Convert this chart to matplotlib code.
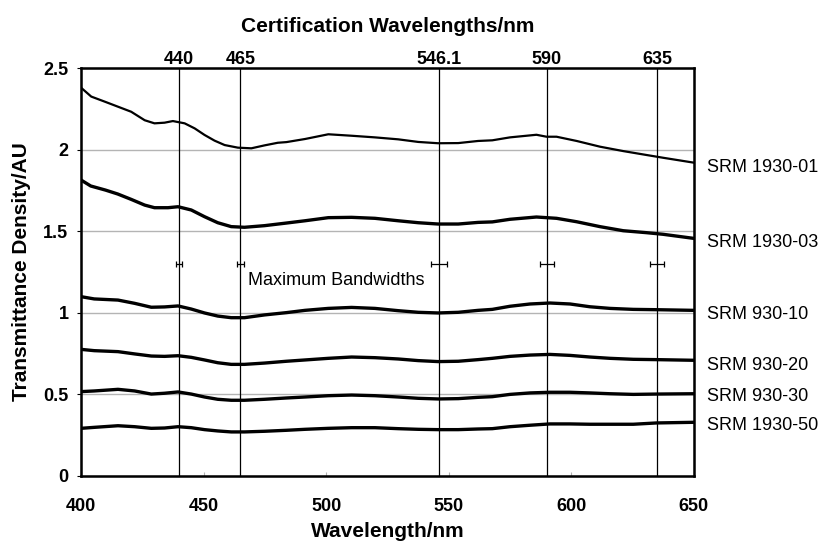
import numpy as np
import matplotlib
matplotlib.use('Agg')
import matplotlib.pyplot as plt

plt.rcParams['font.family'] = ['Liberation Sans', 'DejaVu Sans']

# wavelengths (nm) and transmittance density (AU)
wl_01 = [400, 404.2, 409.7, 415.1, 420.5, 426, 430, 434.1, 437.5, 442.3, 446.4, 450.4, 454.5,
         458.6, 464, 469.5, 474.9, 480.3, 483.8, 491.4, 500.9, 510.4, 519.9, 529.4, 537.6, 545.7,
         553.9, 562, 567.8, 575, 585.8, 589.9, 594, 602.2, 611.7, 621.2, 630.7, 637.5, 650]
srm_1930_01 = [2.38, 2.325, 2.294, 2.263, 2.232, 2.18, 2.161, 2.165, 2.175, 2.161, 2.13, 2.09, 2.055,
               2.028, 2.012, 2.008, 2.026, 2.042, 2.046, 2.065, 2.094, 2.085, 2.075, 2.063, 2.047, 2.039,
               2.04, 2.053, 2.057, 2.075, 2.091, 2.079, 2.079, 2.053, 2.018, 1.991, 1.967, 1.950, 1.92]

wl_03 = [400, 404, 410, 415, 420.5, 426, 430, 435.5, 439.6, 445, 450.4, 455.8, 461.3, 466.7,
         474.9, 483.8, 491.4, 500.9, 510.4, 519.9, 529.4, 537.6, 545.7, 553.9, 562, 567.8, 575,
         585.8, 594, 602.2, 611.7, 621.2, 630.7, 637.5, 650]
srm_1930_03 = [1.814, 1.777, 1.752, 1.728, 1.695, 1.66, 1.644, 1.644, 1.65, 1.63, 1.589, 1.552,
               1.528, 1.524, 1.534, 1.55, 1.564, 1.583, 1.585, 1.579, 1.564, 1.552, 1.544, 1.544,
               1.554, 1.557, 1.573, 1.587, 1.579, 1.558, 1.528, 1.503, 1.491, 1.481, 1.456]

wl = [400, 405.4, 415.1, 421.9, 428.7, 434.1, 439.6, 445, 450.4, 455.8, 461.3, 466.7, 474.9,
      483.8, 491.4, 500.9, 510.4, 519.9, 529.4, 537.6, 545.7, 553.9, 562, 567.8, 575, 583.2,
      591.3, 599.5, 607.6, 615.8, 625.3, 634.8, 650]
srm_930_10 = [1.099, 1.085, 1.078, 1.058, 1.034, 1.036, 1.042, 1.023, 0.999, 0.980, 0.970, 0.970,
              0.987, 1.001, 1.015, 1.027, 1.033, 1.027, 1.013, 1.003, 0.999, 1.003, 1.015, 1.021,
              1.040, 1.054, 1.060, 1.054, 1.037, 1.027, 1.021, 1.019, 1.015]
srm_930_20 = [0.776, 0.768, 0.762, 0.748, 0.735, 0.733, 0.737, 0.727, 0.711, 0.694, 0.684, 0.684,
              0.692, 0.703, 0.711, 0.721, 0.729, 0.725, 0.717, 0.707, 0.701, 0.703, 0.713, 0.721,
              0.733, 0.741, 0.745, 0.739, 0.729, 0.721, 0.715, 0.713, 0.709]
srm_930_30 = [0.517, 0.521, 0.531, 0.521, 0.502, 0.507, 0.515, 0.502, 0.484, 0.470, 0.464, 0.464,
              0.470, 0.478, 0.484, 0.492, 0.496, 0.492, 0.484, 0.476, 0.472, 0.474, 0.482, 0.486,
              0.500, 0.509, 0.513, 0.513, 0.509, 0.504, 0.500, 0.502, 0.504]
srm_1930_50 = [0.292, 0.298, 0.308, 0.302, 0.292, 0.294, 0.302, 0.296, 0.284, 0.276, 0.270, 0.270,
               0.274, 0.280, 0.286, 0.292, 0.296, 0.296, 0.290, 0.286, 0.284, 0.284, 0.288, 0.290,
               0.302, 0.311, 0.319, 0.319, 0.317, 0.317, 0.317, 0.325, 0.329]

labels = ['SRM 1930-01', 'SRM 1930-03', 'SRM 930-10', 'SRM 930-20', 'SRM 930-30', 'SRM 1930-50']
label_y = [1.89, 1.43, 0.99, 0.68, 0.485, 0.31]

cert_wl = [440, 465, 546.1, 590, 635]
cert_labels = ['440', '465', '546.1', '590', '635']
bandwidth = [1.4, 1.5, 3.3, 2.9, 3.0]
bw_level = 1.3

fig = plt.figure(figsize=(8.26, 5.42), dpi=100)
ax = fig.add_axes([0.098, 0.1218, 0.742, 0.7527])

for g in [0.5, 1.0, 1.5, 2.0]:
    ax.axhline(g, color='#b4b4b4', lw=1.0, zorder=1)

for c in cert_wl:
    ax.axvline(c, color='black', lw=0.9, zorder=2)

ax.plot(wl_01, srm_1930_01, color='black', lw=1.6, zorder=3, solid_joinstyle='round')
ax.plot(wl_03, srm_1930_03, color='black', lw=2.4, zorder=3, solid_joinstyle='round')
for ys in [srm_930_10, srm_930_20, srm_930_30, srm_1930_50]:
    ax.plot(wl, ys, color='black', lw=2.4, zorder=3, solid_joinstyle='round')

ax.errorbar(cert_wl, [bw_level] * len(cert_wl), xerr=bandwidth, fmt='none',
            ecolor='black', elinewidth=0.9, capsize=2.5, capthick=0.9, zorder=4)
ax.text(468, 1.2, 'Maximum Bandwidths', fontsize=13, va='center', ha='left')

for lab, ly in zip(labels, label_y):
    ax.text(655.5, ly, lab, fontsize=13, va='center', ha='left', clip_on=False)

ax.set_xlim(400, 650)
ax.set_ylim(0, 2.5)
ax.set_xticks([400, 450, 500, 550, 600, 650])
ax.set_yticks([0, 0.5, 1, 1.5, 2, 2.5])
ax.set_yticklabels(['0', '0.5', '1', '1.5', '2', '2.5'])
for t in ax.get_xticklabels() + ax.get_yticklabels():
    t.set_fontweight('bold')
    t.set_fontsize(13)
ax.tick_params(axis='x', direction='in', length=3, color='#b0b0b0', pad=16)
ax.tick_params(axis='y', direction='out', length=3, pad=6)
for s in ax.spines.values():
    s.set_linewidth(1.8)

ax2 = ax.twiny()
ax2.set_xlim(ax.get_xlim())
ax2.set_xticks(cert_wl)
ax2.set_xticklabels(cert_labels, fontsize=13, fontweight='bold')
ax2.tick_params(axis='x', length=0, pad=0)
ax2.set_xlabel('Certification Wavelengths/nm', fontsize=15, fontweight='bold', labelpad=14)

ax.set_xlabel('Wavelength/nm', fontsize=15, fontweight='bold', labelpad=5)
ax.set_ylabel('Transmittance Density/AU', fontsize=15, fontweight='bold', labelpad=9)

fig.savefig('out.png', dpi=100)
